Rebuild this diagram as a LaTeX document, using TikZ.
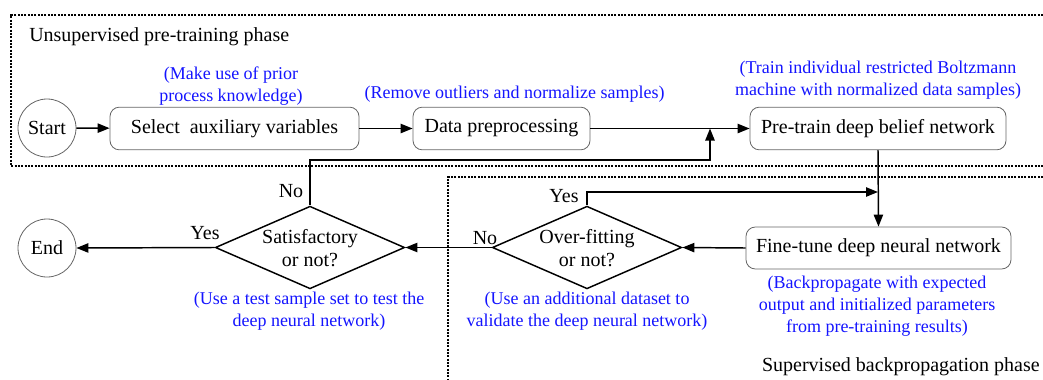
\documentclass[tikz,border=0pt]{standalone}
\usepackage{fontspec}
\setmainfont{Liberation Serif}
\usetikzlibrary{shapes.geometric,arrows.meta,positioning}
\definecolor{noteblue}{RGB}{20,20,255}
\tikzset{
  arr/.style={line width=1.1pt,-{Triangle[length=9pt,width=7pt]}},
  ln/.style={line width=1.1pt},
  box/.style={draw=black!60,line width=0.6pt,rounded corners=7pt,minimum height=32pt,inner sep=0pt,font=\fontsize{15}{17}\selectfont},
  term/.style={draw=black!60,line width=0.6pt,circle,minimum size=43.5pt,inner sep=0pt,font=\fontsize{15}{17}\selectfont},
  dia/.style={draw,line width=1.1pt,diamond,minimum width=142pt,minimum height=62pt,inner sep=0pt},
  diatext/.style={align=center,font=\fontsize{15}{17.5}\selectfont,inner sep=0pt},
  note/.style={text=noteblue,align=center,font=\fontsize{13.5}{16.5}\selectfont,inner sep=0pt},
  lab/.style={font=\fontsize{15}{17}\selectfont,inner sep=0pt},
  phase/.style={dash pattern=on 1.6pt off 0.9pt,line width=0.8pt},
}
\begin{document}
\begin{tikzpicture}[x=0.75pt,y=-0.75pt]
\useasboundingbox (0,0) rectangle (1043,379);
% phase frames
\draw[phase] (1043,15) -- (11,15) -- (11,166) -- (1043,166);
\draw[phase] (1043,177) -- (448,177) -- (448,379);
\node[lab,anchor=west] (uph) at (29,37) {Unsupervised pre-training phase};
\node[lab,anchor=east] (sph) at (1040,367) {Supervised backpropagation phase};
% nodes
\node[term] (start) at (47,128) {Start};
\node[box,minimum width=186.75pt] (sel) at (234.5,128.5) {Select\ \ auxiliary variables};
\node[box,minimum width=132.75pt] (dp) at (501.5,128.5) {Data preprocessing};
\node[box,minimum width=192pt] (pt) at (878,128.5) {Pre-train deep belief network};
\node[box,minimum width=198.75pt,minimum height=31.5pt] (ft) at (878.5,248) {Fine-tune deep neural network};
\node[dia] (of) at (587,247.5) {};
\node[diatext] (oft) at (587,248) {Over-fitting\\or not?};
\node[dia] (sat) at (310,247.5) {};
\node[diatext] (satt) at (310,248) {Satisfactory\\or not?};
\node[term] (end) at (47,248) {End};
% notes
\node[note] (n1) at (231,86) {(Make use of prior\\process knowledge)};
\node[note] (n2) at (514.5,94) {(Remove outliers and normalize samples)};
\node[note] (n3) at (878,80) {(Train individual restricted Boltzmann\\machine with normalized data samples)};
\node[note] (n4) at (309,311.5) {(Use a test sample set to test the\\deep neural network)};
\node[note] (n5) at (587,311.5) {(Use an additional dataset to\\validate the deep neural network)};
\node[note] (n6) at (877,306.5) {(Backpropagate with expected\\output and initialized parameters\\from pre-training results)};
% helper coordinates
\coordinate (j) at (710,128.5);
\coordinate (jb) at (710,160);
\coordinate (k) at (878,192);
% connectors
\draw[arr] (start) -- (sel);
\draw[arr] (sel) -- (dp);
\draw[arr] (dp) -- (pt);
\draw[arr] (sat.north) |- (jb) -- (j);
\draw[arr] (pt.south) -- (ft.north);
\draw[arr] (of.north) |- (k);
\draw[arr] (ft.west) -- (of.east);
\draw[arr] (of.west) -- (sat.east);
\draw[arr] (sat.west) -- (end.east);
% branch labels
\node[lab] (y1) at (205,233) {Yes};
\node[lab] (n1l) at (291,191) {No};
\node[lab] (n2l) at (485,238) {No};
\node[lab] (y2) at (564,196) {Yes};
\end{tikzpicture}
\end{document}
